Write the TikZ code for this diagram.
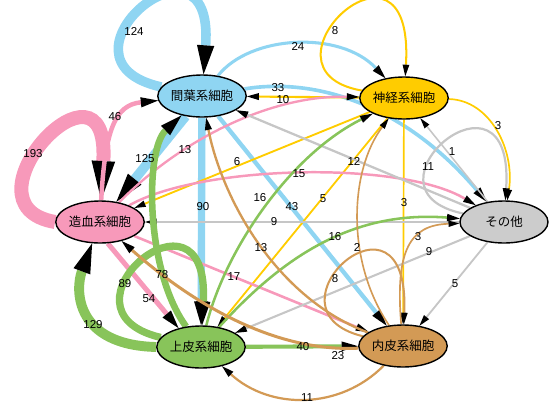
\documentclass[tikz,border=0pt]{standalone}
\usepackage{fontspec}
\setmainfont{Liberation Sans}
\newfontfamily\jpfont{Noto Sans CJK JP}
\usetikzlibrary{arrows.meta,shapes.geometric}
\pgfdeclarelayer{edgelayer}
\pgfsetlayers{edgelayer,main}
\definecolor{cM}{HTML}{8FD5F2}
\definecolor{cN}{HTML}{FFCC00}
\definecolor{cH}{HTML}{F799BA}
\definecolor{cO}{HTML}{CCCCCC}
\definecolor{cE}{HTML}{88C45A}
\definecolor{cD}{HTML}{D39A55}
\tikzset{
  cell/.style={ellipse, draw=black, line width=1.4pt, minimum width=88pt, minimum height=42pt, inner sep=0pt, font=\jpfont\fontsize{12.5}{13}\selectfont},
  lbl/.style={font=\fontsize{11.5}{12}\selectfont, inner sep=0pt, text=black},
  eM/.style={draw=cM}, eN/.style={draw=cN}, eH/.style={draw=cH},
  eO/.style={draw=cO!97!black}, eE/.style={draw=cE}, eD/.style={draw=cD},
  wt/.code={%
    \pgfmathsetmacro\Lw{1.5+0.065*#1}%
    \pgfmathsetmacro\La{7+2.3*\Lw}%
    \pgfmathsetmacro\Wa{4+1.4*\Lw}%
    \edef\tmpw{\noexpand\tikzset{line width=\Lw pt,-{Triangle[length=\La pt,width=\Wa pt,line width=0pt,color=black]}}}%
    \tmpw}
}
\begin{document}
\begin{tikzpicture}[x=1pt,y=-1pt]
\useasboundingbox (0,0) rectangle (550,408);
\node[cell, fill=cM] (M) at (202,96) {間葉系細胞};
\node[cell, fill=cN] (N) at (404,98) {神経系細胞};
\node[cell, fill=cH] (H) at (100,222) {造血系細胞};
\node[cell, fill=cO] (O) at (504,222) {その他};
\node[cell, fill=cE] (E) at (201,347) {上皮系細胞};
\node[cell, fill=cD] (D) at (403,346) {内皮系細胞};

\begin{pgfonlayer}{edgelayer}
% from M (blue)
\draw[eM, wt=124] (M) .. controls (40,60) and (215,-85) .. (M);
\draw[eM, wt=24] (M) .. controls (250,35) and (340,30) .. (N);
\draw[eM, wt=125] (M) -- (H);
\draw[eM, wt=90] (M) -- (E);
\draw[eM, wt=43] (M) -- (D);
\draw[eM, wt=33] (M) .. controls (310,78) and (400,100) .. (O);
% from N (yellow)
\draw[eN, wt=8] (N) .. controls (245,70) and (415,-90) .. (N);
\draw[eN, wt=10] (N) -- (M);
\draw[eN, wt=6] (N) -- (H);
\draw[eN, wt=3] (N) .. controls (490,100) and (515,150) .. (O);
\draw[eN, wt=5] (N) -- (E);
\draw[eN, wt=3] (N) -- (D);
% from H (pink)
\draw[eH, wt=193] (H.west) .. controls (-45,205) and (110,40) .. (H);
\draw[eH, wt=46] (H) .. controls (105,130) and (115,105) .. (M);
\draw[eH, wt=13] (H) .. controls (180,140) and (270,95) .. (N);
\draw[eH, wt=15] (H) .. controls (200,165) and (400,160) .. (O);
\draw[eH, wt=54] (H.290) -- (E.140);
\draw[eH, wt=17] (H) -- (D);
% from O (gray)
\draw[eO, wt=11] (O) .. controls (350,190) and (515,50) .. (O);
\draw[eO, wt=1] (O) -- (N);
\draw[eO, wt=12] (O) -- (M);
\draw[eO, wt=9] (O) -- (H);
\draw[eO, wt=9] (O) -- (E);
\draw[eO, wt=5] (O) -- (D);
% from E (green)
\draw[eE, wt=89] (E) .. controls (45,310) and (210,170) .. (E);
\draw[eE, wt=78] (E) .. controls (145,270) and (145,150) .. (M);
\draw[eE, wt=129] (E.west) .. controls (75,345) and (75,290) .. (H);
\draw[eE, wt=16] (E) .. controls (225,250) and (290,155) .. (N);
\draw[eE, wt=16] (E) .. controls (280,260) and (350,210) .. (O);
\draw[eE, wt=40] (E) -- (D);
% from D (brown)
\draw[eD, wt=8] (D) .. controls (255,310) and (410,170) .. (D);
\draw[eD, wt=13] (D) .. controls (270,295) and (220,190) .. (M);
\draw[eD, wt=2] (D) .. controls (345,260) and (350,170) .. (N);
\draw[eD, wt=3] (D) .. controls (395,250) and (410,225) .. (O);
\draw[eD, wt=23] (D) .. controls (280,352) and (200,310) .. (H);
\draw[eD, wt=11] (D) .. controls (340,410) and (270,410) .. (E);
\end{pgfonlayer}

% edge labels
\node[lbl] (l1) at (134,31) {124};
\node[lbl] (l2) at (298,46) {24};
\node[lbl] (l3) at (335,31) {8};
\node[lbl] (l4) at (278,88) {33};
\node[lbl] (l5) at (283,100) {10};
\node[lbl] (l6) at (115,117) {46};
\node[lbl] (l7) at (33,154) {193};
\node[lbl] (l8) at (145,159) {125};
\node[lbl] (l9) at (185,150) {13};
\node[lbl] (l10) at (237,162) {6};
\node[lbl] (l11) at (354,161) {12};
\node[lbl] (l12) at (452,152) {1};
\node[lbl] (l13) at (428,167) {11};
\node[lbl] (l14) at (498,126) {3};
\node[lbl] (l15) at (299,174) {15};
\node[lbl] (l16) at (203,207) {90};
\node[lbl] (l17) at (260,198) {16};
\node[lbl] (l18) at (292,207) {43};
\node[lbl] (l19) at (323,199) {5};
\node[lbl] (l20) at (404,203) {3};
\node[lbl] (l21) at (274,222) {9};
\node[lbl] (l22) at (261,248) {13};
\node[lbl] (l23) at (357,247) {2};
\node[lbl] (l24) at (335,237) {16};
\node[lbl] (l25) at (418,237) {3};
\node[lbl] (l26) at (429,252) {9};
\node[lbl] (l27) at (162,275) {78};
\node[lbl] (l28) at (125,284) {89};
\node[lbl] (l29) at (234,277) {17};
\node[lbl] (l30) at (149,299) {54};
\node[lbl] (l31) at (93,325) {129};
\node[lbl] (l32) at (335,279) {8};
\node[lbl] (l33) at (455,284) {5};
\node[lbl] (l34) at (303,347) {40};
\node[lbl] (l35) at (338,356) {23};
\node[lbl] (l36) at (307,398) {11};
\end{tikzpicture}
\end{document}
